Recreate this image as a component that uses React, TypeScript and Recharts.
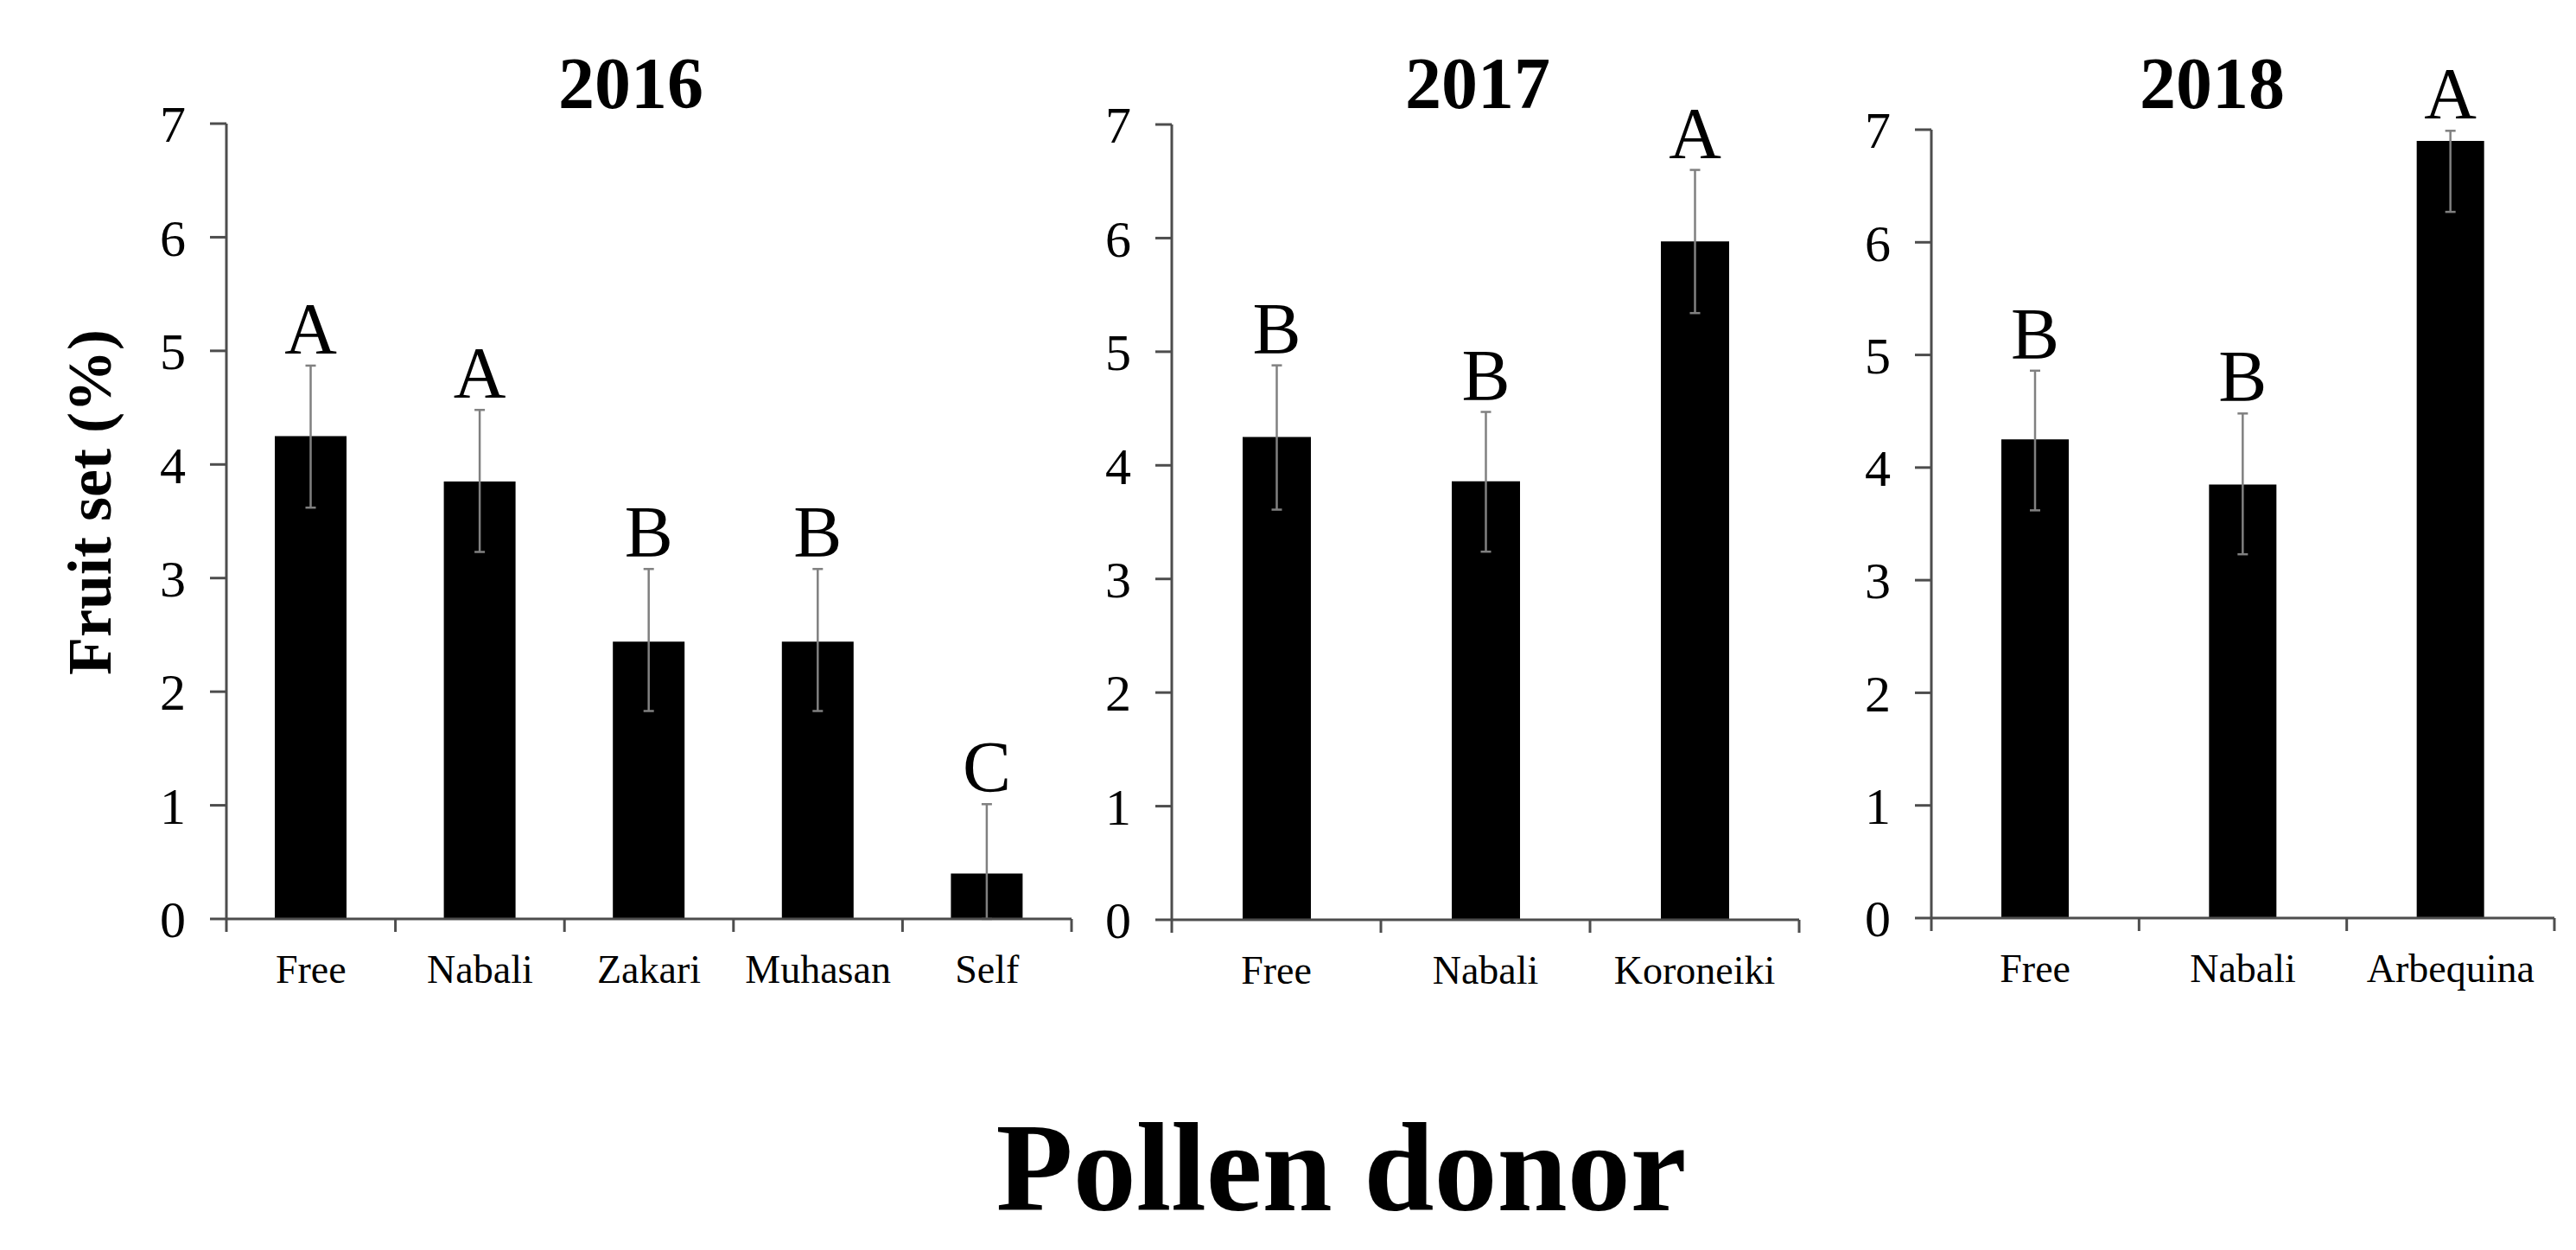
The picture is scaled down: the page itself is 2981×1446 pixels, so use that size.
import { BarChart, Bar, XAxis, YAxis, ErrorBar, LabelList } from "recharts";

const SERIF = '"Liberation Serif", "Times New Roman", serif';
const AXIS = "#4d4d4d";

// y axis ticks (fruit set %)
const yTicks = [0, 1, 2, 3, 4, 5, 6, 7];

// 2016
const donors2016 = ["Free", "Nabali", "Zakari", "Muhasan", "Self"];
const fruitSet2016 = [4.25, 3.85, 2.44, 2.44, 0.4];
const err2016 = [[0.63, 0.62], [0.62, 0.63], [0.61, 0.64], [0.61, 0.64], [0.4, 0.61]];
const letters2016 = ["A", "A", "B", "B", "C"];

// 2017
const donors2017 = ["Free", "Nabali", "Koroneiki"];
const fruitSet2017 = [4.25, 3.86, 5.97];
const err2017 = [[0.64, 0.63], [0.62, 0.61], [0.63, 0.63]];
const letters2017 = ["B", "B", "A"];

// 2018
const donors2018 = ["Free", "Nabali", "Arbequina"];
const fruitSet2018 = [4.25, 3.85, 6.9];
const err2018 = [[0.63, 0.61], [0.62, 0.63], [0.63, 0.09]];
const letters2018 = ["B", "B", "A"];

type Row = { donor: string; value: number; err: number[]; letter: string };

const buildRows = (donors: string[], values: number[], errs: number[][], letters: string[]): Row[] =>
  donors.map((d, i) => ({ donor: d, value: values[i], err: errs[i], letter: letters[i] }));

const rows2016 = buildRows(donors2016, fruitSet2016, err2016, letters2016);
const rows2017 = buildRows(donors2017, fruitSet2017, err2017, letters2017);
const rows2018 = buildRows(donors2018, fruitSet2018, err2018, letters2018);

// category tick: tick marks on band edges like Excel, label in the middle
function makeTick(count: number, band: number) {
  return (props: any) => {
    const { x, y, payload, index } = props;
    const left = x - band / 2;
    return (
      <g>
        <line x1={left} y1={y} x2={left} y2={y + 15} stroke={AXIS} strokeWidth={3} />
        {index === count - 1 && (
          <line x1={x + band / 2} y1={y} x2={x + band / 2} y2={y + 15} stroke={AXIS} strokeWidth={3} />
        )}
        <text x={x} y={y + 74} textAnchor="middle" fontSize={46} fontFamily={SERIF} fill="#000">
          {payload.value}
        </text>
      </g>
    );
  };
}

// significance letter above the error bar
function makeLetter(rows: Row[]) {
  return (props: any) => {
    const vb = props.viewBox ?? props;
    const row = rows.find((r) => r.donor === props.value);
    if (!row) return null;
    const pxPerUnit = vb.height / row.value;
    const top = vb.y - row.err[1] * pxPerUnit;
    return (
      <text x={vb.x + vb.width / 2} y={top - 14} textAnchor="middle" fontSize={84} fontFamily={SERIF} fill="#000">
        {row.letter}
      </text>
    );
  };
}

type PanelProps = {
  rows: Row[];
  left: number;
  width: number;
  top: number;
  plotHeight: number;
  yAxisWidth: number;
  barSize: number;
  band: number;
  showYLabel?: boolean;
};

function Panel({ rows, left, width, top, plotHeight, yAxisWidth, barSize, band, showYLabel }: PanelProps) {
  const height = 1200;
  const xAxisHeight = 80;
  const bottom = height - (top + plotHeight) - xAxisHeight;
  return (
    <div style={{ position: "absolute", left, top: 0 }}>
      <BarChart
        width={width}
        height={height}
        data={rows}
        margin={{ top, right: 20, bottom, left: 0 }}
      >
        <XAxis
          dataKey="donor"
          height={xAxisHeight}
          axisLine={{ stroke: AXIS, strokeWidth: 3 }}
          tickLine={false}
          tickSize={0}
          tickMargin={0}
          interval={0}
          tick={makeTick(rows.length, band)}
        />
        <YAxis
          width={yAxisWidth}
          domain={[0, 7]}
          ticks={yTicks}
          interval={0}
          axisLine={{ stroke: AXIS, strokeWidth: 3 }}
          tickLine={{ stroke: AXIS, strokeWidth: 3 }}
          tickSize={19}
          tickMargin={28}
          tick={{ fontSize: 60, fill: "#000", fontFamily: SERIF }}
          label={
            showYLabel
              ? {
                  content: () => (
                    <text
                      x={128}
                      y={581}
                      transform="rotate(-90, 128, 581)"
                      textAnchor="middle"
                      fontSize={72}
                      fontWeight="bold"
                      fontFamily={SERIF}
                      fill="#000"
                    >
                      Fruit set (%)
                    </text>
                  ),
                }
              : undefined
          }
        />
        <Bar dataKey="value" fill="#000" barSize={barSize} isAnimationActive={false}>
          <ErrorBar dataKey="err" width={6} stroke="#808080" strokeWidth={2.5} direction="y" />
          <LabelList dataKey="donor" content={makeLetter(rows)} />
        </Bar>
      </BarChart>
    </div>
  );
}

const titleStyle = (center: number): React.CSSProperties => ({
  position: "absolute",
  left: center - 200,
  top: 55,
  width: 400,
  textAlign: "center",
  fontFamily: SERIF,
  fontWeight: "bold",
  fontSize: 84,
  lineHeight: 1,
});

export default function App() {
  return (
    <div
      style={{
        position: "absolute",
        left: 0,
        top: 0,
        width: 2981,
        height: 1446,
        background: "#fff",
        overflow: "hidden",
      }}
    >
      <Panel rows={rows2016} left={0} width={1260} top={143} plotHeight={920} yAxisWidth={262} barSize={83} band={195.6} showYLabel />
      <Panel rows={rows2017} left={1250} width={852} top={144} plotHeight={920} yAxisWidth={106} barSize={79} band={242} />
      <Panel rows={rows2018} left={2130} width={846} top={150} plotHeight={912} yAxisWidth={105} barSize={78} band={240.3} />

      <div style={titleStyle(730)}>2016</div>
      <div style={titleStyle(1710)}>2017</div>
      <div style={titleStyle(2560)}>2018</div>

      <div
        style={{
          position: "absolute",
          left: 0,
          top: 1278,
          width: 3104,
          textAlign: "center",
          fontFamily: SERIF,
          fontWeight: "bold",
          fontSize: 146,
          lineHeight: 1,
        }}
      >
        Pollen donor
      </div>
    </div>
  );
}
